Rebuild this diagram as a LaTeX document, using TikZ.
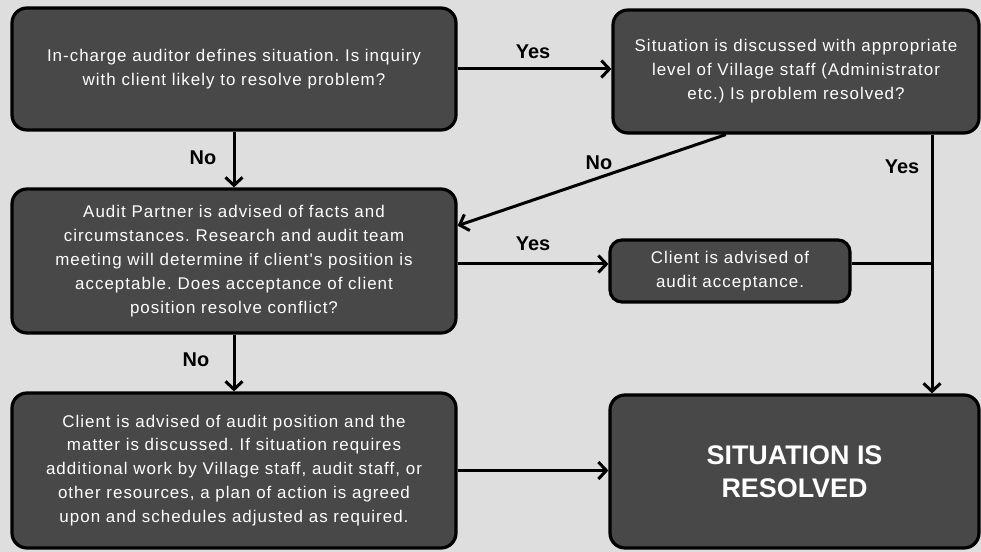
\documentclass[tikz,border=0pt]{standalone}
\usepackage{fontspec}
\setmainfont{Liberation Sans}
\usetikzlibrary{arrows.meta,calc}
\definecolor{bgc}{RGB}{222,222,222}
\definecolor{boxc}{RGB}{72,72,72}
\newfontfamily\boxfont[LetterSpace=6]{Liberation Sans}
\begin{document}
\frenchspacing
\begin{tikzpicture}[x=1bp,y=-1bp,
  box/.style={draw=black, line width=3.2bp, fill=boxc, rounded corners=15bp,
    text=white, align=center, inner sep=0pt,
    font=\boxfont\fontsize{17}{24}\selectfont},
  conn/.style={line width=3bp, draw=black},
  arr/.style={conn, -{Straight Barb[length=8bp,width=17bp]}},
  lbl/.style={font=\fontsize{20}{22}\selectfont\bfseries, text=black, inner sep=0pt}]
\fill[bgc] (0,0) rectangle (981,552);
\useasboundingbox (0,0) rectangle (981,552);

\node[box, minimum width=444bp, minimum height=122bp] (A) at (234,69)
  {In-charge auditor defines situation. Is inquiry\\with client likely to resolve problem?};
\node[box, minimum width=366bp, minimum height=123bp] (B) at (796,71.5)
  {Situation is discussed with appropriate\\level of Village staff (Administrator\\etc.) Is problem resolved?};
\node[box, minimum width=444bp, minimum height=144bp] (C) at (234,261)
  {Audit Partner is advised of facts and\\circumstances. Research and audit team\\meeting will determine if client's position is\\acceptable. Does acceptance of client\\position resolve conflict?};
\node[box, minimum width=444bp, minimum height=155bp] (D) at (234,470.5)
  {Client is advised of audit position and the\\matter is discussed. If situation requires\\additional work by Village staff, audit staff, or\\other resources, a plan of action is agreed\\upon and schedules adjusted as required.};
\node[box, minimum width=240bp, minimum height=62bp, rounded corners=12bp] (E) at (730,271)
  {Client is advised of\\audit acceptance.};
\node[box, minimum width=369bp, minimum height=153bp, font=\fontsize{27}{33}\selectfont\bfseries] (F) at (794.5,471.5)
  {SITUATION IS\\RESOLVED};

\coordinate (j) at (932,264);
\coordinate (bs) at ($(B.south west)!0.31!(B.south east)$);
\coordinate (ce) at ($(C.north east)!0.26!(C.south east)$);

\draw[arr] (A.east) -- (B.west |- A.east);
\draw[arr] (A.south) -- (C.north);
\draw[arr] (bs) -- (ce);
\draw[arr] (B.south -| j) -- (F.north -| j);
\draw[arr] (C.east |- j) -- (E.west |- j);
\draw[conn] (E.east |- j) -- (j);
\draw[arr] (C.south) -- (D.north);
\draw[arr] (D.east) -- (F.west |- D.east);

\node[lbl] (l1) at (533,52) {Yes};
\node[lbl] (l2) at (203,158) {No};
\node[lbl] (l3) at (599,163) {No};
\node[lbl] (l4) at (902,167) {Yes};
\node[lbl] (l5) at (533,244) {Yes};
\node[lbl] (l6) at (196,360) {No};
\end{tikzpicture}
\end{document}
